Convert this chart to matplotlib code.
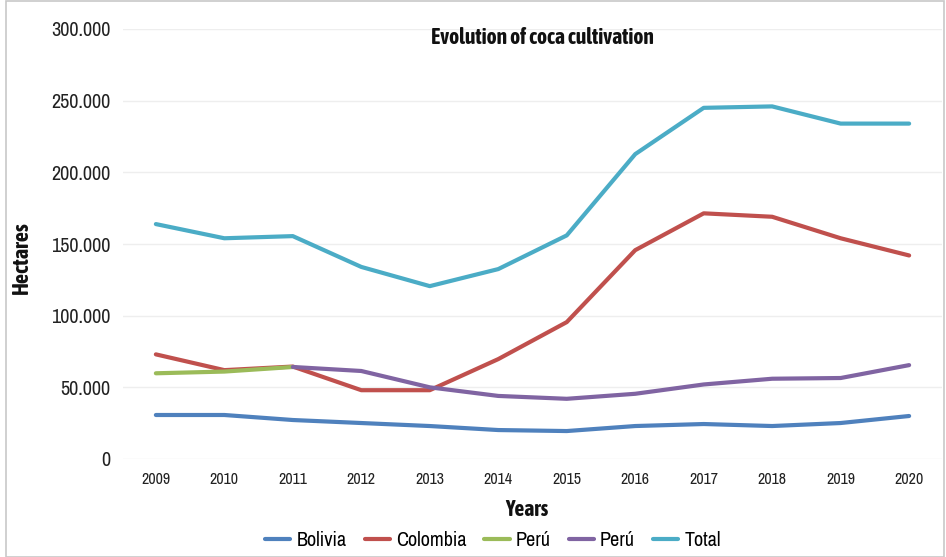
import matplotlib.pyplot as plt
from matplotlib import font_manager as fm
from matplotlib.ticker import FuncFormatter
from matplotlib.patches import Rectangle

# pick a narrow/condensed face if one is installed
narrow_fonts = [f for f in fm.fontManager.ttflist if 'Narrow' in f.name or 'Condensed' in f.name]
regular = [f for f in narrow_fonts if f.weight in ('normal', 'regular', 400) and f.style == 'normal']
bold = [f for f in narrow_fonts if f.weight in ('bold', 700, 'heavy', 800) and f.style == 'normal']
if regular:
    plt.rcParams['font.family'] = [regular[0].name, 'Roboto', 'DejaVu Sans']
else:
    plt.rcParams['font.family'] = ['Roboto', 'DejaVu Sans']
if bold:
    bold_fp = dict(fontproperties=fm.FontProperties(fname=bold[0].fname))
else:
    bold_fp = dict(family='Roboto', fontweight='bold')

# Data (hectares)
years = ['2009', '2010', '2011', '2012', '2013', '2014', '2015', '2016', '2017', '2018', '2019', '2020']
bolivia = [30700, 30700, 27200, 25100, 23000, 20200, 19500, 23000, 24400, 23000, 25100, 30000]
colombia = [73000, 62000, 64500, 48000, 48000, 69700, 95500, 145700, 171400, 169000, 154000, 142000]
peru_early = [59800, 61000, 64200]  # 2009-2011
peru_late = [64200, 61400, 50000, 44000, 42000, 45500, 52000, 56000, 56500, 65500]  # 2011-2020
total = [163900, 154000, 155500, 134000, 120600, 132500, 156000, 212700, 245000, 246000, 234000, 234000]

colors = {
    'Bolivia': '#4F81BD',
    'Colombia': '#C0504D',
    'Perú green': '#9BBB59',
    'Perú purple': '#8064A2',
    'Total': '#4BACC6',
}

fig = plt.figure(figsize=(9.46, 5.57), dpi=100)
ax = fig.add_axes([123 / 946, 1 - 459 / 557, (942 - 123) / 946, (459 - 29) / 557])

x = list(range(len(years)))
lw = 3
ax.plot(x, bolivia, color=colors['Bolivia'], lw=lw, label='Bolivia', solid_capstyle='round')
ax.plot(x, colombia, color=colors['Colombia'], lw=lw, label='Colombia', solid_capstyle='round')
ax.plot(x[:3], peru_early, color=colors['Perú green'], lw=lw, label='Perú', solid_capstyle='round')
ax.plot(x[2:], peru_late, color=colors['Perú purple'], lw=lw, label='Perú', solid_capstyle='round')
ax.plot(x, total, color=colors['Total'], lw=lw, label='Total', solid_capstyle='round')

ax.set_xlim(-0.48, len(years) - 0.52)
ax.set_ylim(0, 300000)
ax.set_yticks(range(0, 300001, 50000))
ax.yaxis.set_major_formatter(FuncFormatter(lambda v, p: f"{int(v):,}".replace(',', '.')))
ax.set_xticks(x)
ax.set_xticklabels(years)
ax.tick_params(axis='y', labelsize=14.5, length=0, pad=9, labelcolor='#222222')
ax.tick_params(axis='x', labelsize=11.5, length=0, pad=9, labelcolor='#222222')
ax.grid(axis='y', color='#EEEEEE', lw=1)
ax.set_axisbelow(True)
for s in ax.spines.values():
    s.set_visible(False)

fig.text(542 / 946, 1 - 38 / 557, 'Evolution of coca cultivation',
         ha='center', va='center', fontsize=15.5, color='#111111', **bold_fp)
fig.text(22 / 946, 1 - 258 / 557, 'Hectares', rotation=90, ha='center', va='center',
         fontsize=16, color='#111111', **bold_fp)
fig.text(527 / 946, 1 - 510 / 557, 'Years', ha='center', va='center',
         fontsize=15.5, color='#111111', **bold_fp)

fig.legend(loc='center', bbox_to_anchor=(493 / 946, 1 - 541 / 557), ncol=5, frameon=False,
           fontsize=14.5, handlelength=1.25, columnspacing=0.9, handletextpad=0.3)

fig.patches.append(Rectangle((6 / 946, 0), 1 - 8 / 946, 1 - 1 / 557, transform=fig.transFigure,
                             fill=False, edgecolor='#C8C8C8', lw=1.2))

fig.savefig('out.png', dpi=100)
